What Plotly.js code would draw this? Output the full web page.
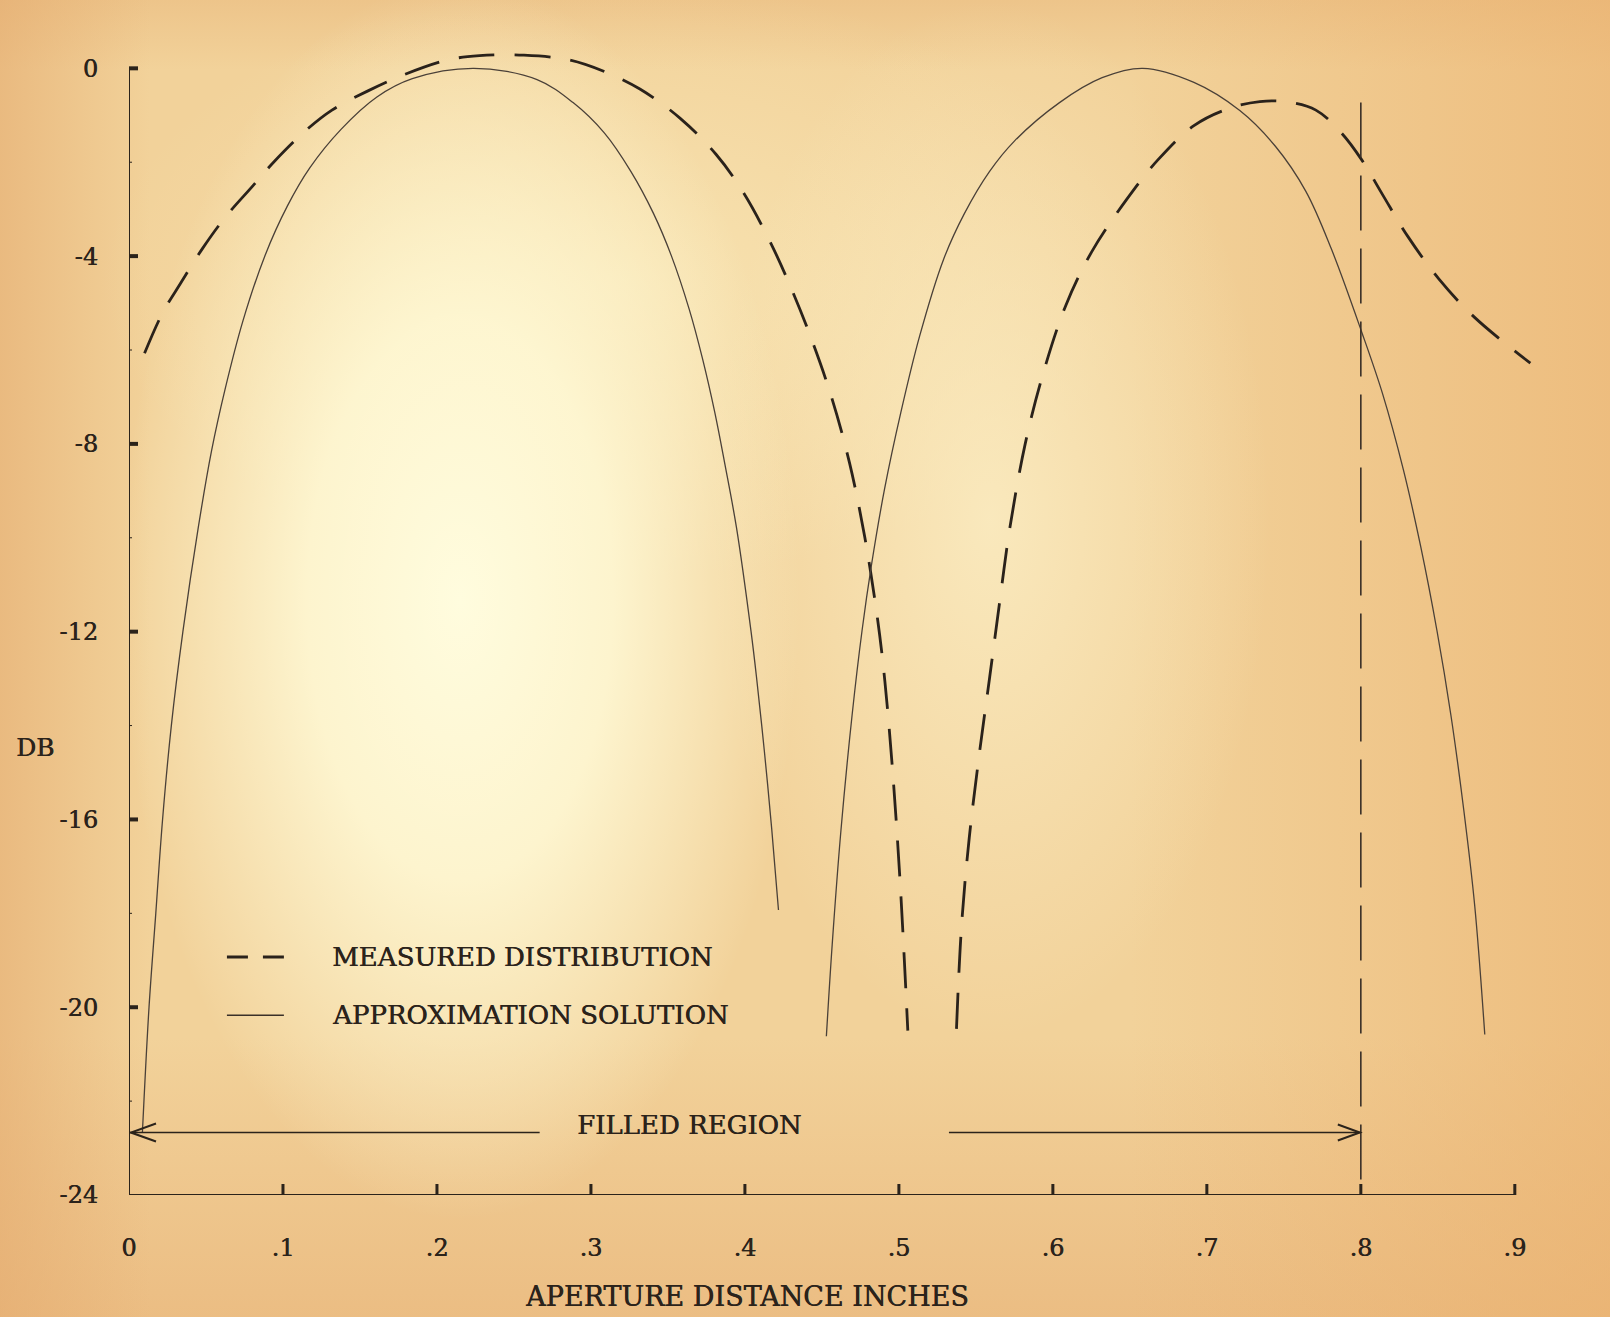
<!DOCTYPE html>
<html><head><meta charset="utf-8">
<script src="https://cdn.plot.ly/plotly-3.0.1.min.js"></script>
<style>
html,body{margin:0;padding:0;background:#f2d29a;}
#bg{position:absolute;left:0;top:0;width:1610px;height:1317px;
background:
 radial-gradient(ellipse 340px 620px at 460px 600px, rgba(255,252,222,1) 0%, rgba(255,250,215,0.85) 45%, rgba(255,248,210,0) 100%),
 radial-gradient(ellipse 280px 520px at 990px 520px, rgba(252,240,200,0.75) 0%, rgba(252,240,200,0) 100%),
 radial-gradient(ellipse 520px 300px at 620px 280px, rgba(252,240,195,0.55), rgba(252,240,195,0)),
 linear-gradient(to right, rgba(228,170,110,0.6) 0px, rgba(228,170,110,0) 150px),
 linear-gradient(to left, rgba(234,175,108,0.6) 0px, rgba(234,175,108,0) 480px),
 linear-gradient(to top, rgba(230,172,112,0.55) 0px, rgba(230,172,112,0) 280px),
 linear-gradient(to bottom, rgba(233,185,125,0.55) 0px, rgba(233,185,125,0) 70px),
 #f2d29a;}
#chart{position:absolute;left:0;top:0;width:1610px;height:1317px;}
</style></head>
<body><div id="bg"></div><div id="chart"></div>
<script>
// ---- data ----
const approxX1 = [0.0087,0.013,0.0174,0.0218,0.0275,0.035,0.045,0.0536,0.0623,0.074,0.0883,0.1029,0.1174,0.1377,0.161,0.184,0.224,0.265,0.2884,0.3088,0.326,0.3406,0.3522,0.3638,0.3725,0.3805,0.3868,0.3945,0.404,0.4075,0.4128,0.4174,0.4218];
const approxY1 = [-22.67,-20.0,-18.0,-16.0,-14.0,-12.0,-9.78,-8.15,-6.85,-5.38,-3.99,-2.93,-2.12,-1.3,-0.61,-0.22,0.0,-0.24,-0.73,-1.38,-2.2,-3.09,-3.99,-5.13,-6.19,-7.34,-8.4,-9.78,-12.0,-12.96,-14.6,-16.2,-17.93];
const approxX2 = [0.4529,0.4567,0.4624,0.4696,0.4761,0.4821,0.4907,0.5012,0.5135,0.529,0.5426,0.5588,0.575,0.6043,0.632,0.6584,0.6916,0.7214,0.7445,0.7643,0.7809,0.8006,0.8141,0.8277,0.8389,0.8494,0.8585,0.8669,0.874,0.8805];
const approxY2 = [-20.62,-18.66,-16.22,-13.78,-11.97,-10.6,-8.96,-7.34,-5.7,-4.07,-3.09,-2.2,-1.55,-0.73,-0.2,0.0,-0.3,-0.9,-1.66,-2.62,-3.85,-5.62,-6.93,-8.56,-10.19,-11.97,-13.78,-15.81,-17.85,-20.58];
const measX1 = [0.0101,0.0218,0.0331,0.0479,0.0623,0.0797,0.0942,0.1143,0.1318,0.1552,0.1783,0.2071,0.2276,0.2565,0.2856,0.3088,0.3318,0.3578,0.3812,0.3987,0.416,0.4297,0.4429,0.4562,0.4679,0.4778,0.4861,0.4909,0.496,0.501,0.5058];
const measY1 = [-6.07,-5.21,-4.6,-3.83,-3.18,-2.53,-1.99,-1.34,-0.89,-0.48,-0.14,0.18,0.27,0.28,0.18,-0.07,-0.44,-1.06,-1.83,-2.63,-3.67,-4.66,-5.74,-7.0,-8.4,-9.98,-11.72,-13.06,-15.0,-17.45,-20.5];
const measX2 = [0.5374,0.5407,0.5457,0.5523,0.559,0.5656,0.5721,0.5821,0.5935,0.6084,0.6252,0.6484,0.6682,0.6916,0.7147,0.7344,0.7511,0.7708,0.7875,0.8006,0.8141,0.8305,0.8505,0.8737,0.9101];
const measY2 = [-20.46,-18.26,-16.39,-14.59,-12.96,-11.33,-9.78,-7.99,-6.52,-5.05,-3.91,-2.77,-1.95,-1.22,-0.85,-0.71,-0.71,-0.89,-1.38,-1.95,-2.69,-3.58,-4.48,-5.3,-6.28];
const filledRegionX = [0, 0.8];      // filled region extent (inches)
const filledRegionTop = -0.73;       // top of the dashed boundary line (dB)
const xTickVals = [0,0.1,0.2,0.3,0.4,0.5,0.6,0.7,0.8,0.9];
const xTickText = ['0','.1','.2','.3','.4','.5','.6','.7','.8','.9'];
const yTickVals = [0,-4,-8,-12,-16,-20,-24];
const yTickText = ['0','-4','-8','-12','-16','-20','-24'];
const seriesNames = ['MEASURED DISTRIBUTION','APPROXIMATION SOLUTION'];

// ---- styling ----
const ink = '#2b231b';
const FONT = 'DejaVu Serif';
const SHADOW = '0.5px 0 0 #2b231b';
const yMin = yTickVals[yTickVals.length-1];
const xMax = xTickVals[xTickVals.length-1];
const arrowY = -22.67;

const measLine = {color:'#2a221b', width:2.8, dash:'36px,20px', shape:'spline', smoothing:1.0};
const approxLine = {color:'#4a4038', width:1.3, shape:'spline', smoothing:1.0};

const traces = [
  {x:measX1, y:measY1, mode:'lines', name:seriesNames[0], line:measLine},
  {x:measX2, y:measY2, mode:'lines', name:seriesNames[0], line:measLine},
  {x:approxX1, y:approxY1, mode:'lines', name:seriesNames[1], line:approxLine},
  {x:approxX2, y:approxY2, mode:'lines', name:seriesNames[1], line:approxLine}
];

const shapes = [];
// axis lines
shapes.push({type:'line', xref:'x', yref:'y', x0:0, x1:xMax, y0:yMin, y1:yMin, line:{color:ink, width:2}});
shapes.push({type:'line', xref:'x', yref:'y', x0:0, x1:0, y0:yMin, y1:yTickVals[0], line:{color:ink, width:2}});
// y ticks (crossing the axis) and small intermediate marks
yTickVals.forEach(v => {
  if (v > yMin) {
    shapes.push({type:'line', xref:'x', yref:'y', xsizemode:'pixel', xanchor:0, x0:-10, x1:9, y0:v, y1:v, line:{color:ink, width:4}});
    shapes.push({type:'line', xref:'x', yref:'y', xsizemode:'pixel', xanchor:0, x0:-3, x1:3, y0:v-2, y1:v-2, line:{color:ink, width:1}});
  }
});
// x ticks
xTickVals.forEach(v => {
  if (v > 0) shapes.push({type:'line', xref:'x', yref:'y', ysizemode:'pixel', yanchor:yMin, y0:-7, y1:11, x0:v, x1:v, line:{color:ink, width:3}});
});
// filled region boundary (dashed vertical), drawn from the top down
shapes.push({type:'line', xref:'x', yref:'y', x0:filledRegionX[1], x1:filledRegionX[1], y0:filledRegionTop, y1:yMin, line:{color:'#3a3028', width:1.6, dash:'55px,18px'}});
// filled region arrows
shapes.push({type:'line', xref:'x', yref:'y', x0:filledRegionX[0], x1:0.2667, y0:arrowY, y1:arrowY, line:{color:ink, width:1.6}});
shapes.push({type:'line', xref:'x', yref:'y', x0:0.5325, x1:filledRegionX[1], y0:arrowY, y1:arrowY, line:{color:ink, width:1.6}});
shapes.push({type:'path', xref:'x', yref:'y', xsizemode:'pixel', ysizemode:'pixel', xanchor:filledRegionX[0], yanchor:arrowY, path:'M 27,9 L 2,0 L 27,-9', line:{color:ink, width:2}});
shapes.push({type:'path', xref:'x', yref:'y', xsizemode:'pixel', ysizemode:'pixel', xanchor:filledRegionX[1], yanchor:arrowY, path:'M -23,8 L -1,0 L -23,-8', line:{color:ink, width:2}});
// legend samples
shapes.push({type:'line', xref:'x', yref:'y', x0:0.0636, x1:0.1006, y0:-18.93, y1:-18.93, line:{color:'#2a221b', width:2.8, dash:'21px,15px'}});
shapes.push({type:'line', xref:'x', yref:'y', x0:0.0636, x1:0.1006, y0:-20.17, y1:-20.17, line:{color:'#3a3028', width:1.6}});

const tf = {family:FONT, size:26, color:ink, shadow:SHADOW};
const annotations = [
  {text:seriesNames[0], xref:'x', yref:'y', x:0.1305, y:-18.93, xanchor:'left', yanchor:'middle', showarrow:false, font:tf},
  {text:seriesNames[1], xref:'x', yref:'y', x:0.1305, y:-20.17, xanchor:'left', yanchor:'middle', showarrow:false, font:tf},
  {text:'FILLED REGION', xref:'x', yref:'y', x:0.3643, y:-22.5, xanchor:'center', yanchor:'middle', showarrow:false, font:tf},
  {text:'APERTURE DISTANCE INCHES', xref:'paper', yref:'paper', x:(747-129)/1432, y:(1195-1296)/1183, xanchor:'center', yanchor:'middle', showarrow:false, font:{family:FONT, size:27, color:ink, shadow:SHADOW}},
  {text:'DB', xref:'paper', yref:'paper', x:(35-129)/1432, y:(1195-747)/1183, xanchor:'center', yanchor:'middle', showarrow:false, font:{family:FONT, size:25, color:ink, shadow:SHADOW}}
];

const layout = {
  width:1610, height:1317,
  margin:{l:129, r:49, t:12, b:122},
  paper_bgcolor:'rgba(0,0,0,0)', plot_bgcolor:'rgba(0,0,0,0)',
  showlegend:false,
  xaxis:{range:[0,0.93], tickmode:'array', tickvals:xTickVals, ticktext:xTickText, ticks:'', showline:false, showgrid:false, zeroline:false,
         tickfont:{family:FONT, size:24, color:ink, shadow:SHADOW}, ticklabelstandoff:36, fixedrange:true},
  yaxis:{range:[yMin,1.2], tickmode:'array', tickvals:yTickVals, ticktext:yTickText, ticks:'', showline:false, showgrid:false, zeroline:false,
         tickfont:{family:FONT, size:24, color:ink, shadow:SHADOW}, ticklabelstandoff:30, fixedrange:true},
  shapes:shapes,
  annotations:annotations
};

Plotly.newPlot('chart', traces, layout, {displayModeBar:false, staticPlot:true});
</script>
</body></html>
